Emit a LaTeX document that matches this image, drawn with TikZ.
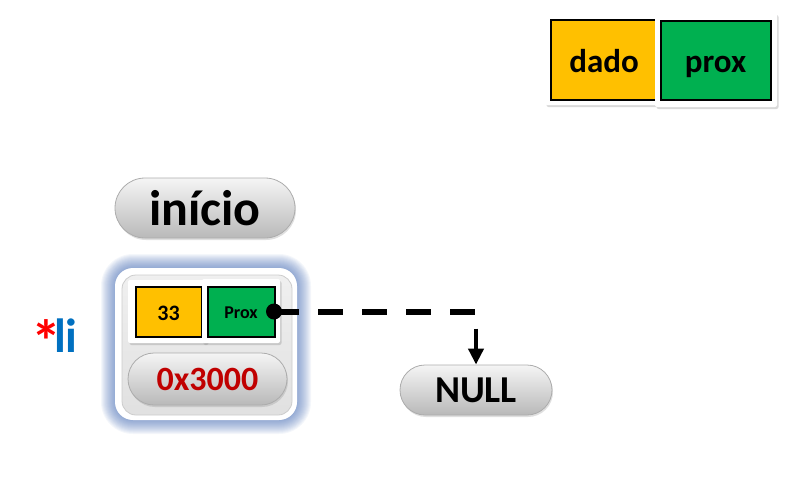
\documentclass[tikz,border=0pt]{standalone}
\usepackage{fontspec}
\setmainfont{Carlito}
\usepackage{tikz}
\usetikzlibrary{arrows.meta,shadows,shapes.misc}

\definecolor{amarelo}{HTML}{FFC000}
\definecolor{verde}{HTML}{00B050}
\definecolor{vermelho}{HTML}{C00000}
\definecolor{azul}{HTML}{0070C0}
\definecolor{brilho}{HTML}{4A6FB5}

\newcommand{\tam}[1]{\fontsize{#1}{#1}\selectfont\bfseries}

\tikzset{
  fundo/.style={fill=white, rounded corners=2pt, inner sep=0pt,
    drop shadow={opacity=0.3, shadow xshift=1.5pt, shadow yshift=-2pt}},
  campo/.style={draw=black, line width=2pt, inner sep=0pt,
    text height=#1, text depth=0pt},
  pilula/.style={rounded rectangle, draw=gray!65, line width=0.8pt,
    top color=gray!8, bottom color=gray!55, inner sep=0pt,
    drop shadow={opacity=0.25, shadow xshift=1pt, shadow yshift=-2pt}},
  tracejada/.style={line width=6pt, dash pattern=on 25pt off 19pt},
}

\begin{document}
\begin{tikzpicture}[x=1pt,y=-1pt]
    \useasboundingbox (0,0) rectangle (797,477);

    % legenda: dado | prox
    \node[fundo, minimum width=115pt, minimum height=92pt] (dadofundo) at (602.5,59) {};
    \node[campo=25pt, fill=amarelo, minimum width=107pt, minimum height=80pt, font=\tam{33}] (dado) at (604,59.5) {dado};
    \node[fundo, minimum width=122pt, minimum height=94pt] (proxfundo) at (716,60) {};
    \node[campo=25pt, fill=verde, minimum width=110pt, minimum height=79pt, font=\tam{33}] (prox) at (715.5,60) {prox};

    % ponteiro inicio
    \node[pilula, minimum width=180pt, minimum height=60pt, font=\tam{50}] (inicio) at (205,208) {início};

    % brilho azul em volta do no
    \foreach \i in {1,...,14}
        \fill[brilho, opacity=0.06, rounded corners=18pt+\i pt]
            (115-\i,268-\i) rectangle (297+\i,420+\i);

    % caixa do no
    \node[fill=white, rounded corners=18pt, minimum width=182pt, minimum height=152pt] (caixa) at (206,344) {};
    \node[draw=gray!40, line width=0.8pt, top color=gray!12, bottom color=gray!24, rounded corners=14pt,
          minimum width=170pt, minimum height=140pt] (painel) at (207,345) {};

    % campos do no
    \node[fundo, minimum width=79pt, minimum height=63pt] (valfundo) at (167.5,311.5) {};
    \node[campo=17pt, fill=amarelo, minimum width=66pt, minimum height=50pt, font=\tam{22}] (val) at (168.5,311.5) {33};
    \node[fundo, minimum width=78pt, minimum height=64pt] (nxtfundo) at (241,311) {};
    \node[campo=13pt, fill=verde, minimum width=67pt, minimum height=50pt, font=\tam{18}] (nxt) at (241,311.5) {Prox};
    \node[pilula, minimum width=159pt, minimum height=52pt, font=\tam{34}, text=vermelho] (ender) at (207.5,379) {0x3000};

    % NULL
    \node[pilula, minimum width=152pt, minimum height=50pt, font=\tam{38}] (null) at (476,390) {NULL};

    % ligacao prox -> NULL
    \coordinate (ponta) at (274,311.5);
    \coordinate (canto) at (476,311.5);
    \draw[tracejada] (ponta) -- (canto);
    \draw[line width=4pt, shorten <=17pt, -{Triangle[width=15pt,length=16pt]}] (canto) -- (null.north);
    \fill (ponta) circle (8);

    % rotulo
    \node[anchor=base west, inner sep=0pt, font=\tam{48}] (li) at (31,352)
        {\textcolor{red}{\raisebox{-10pt}{\fontsize{60}{60}\selectfont*}}\kern-7pt\textcolor{azul}{li}};
\end{tikzpicture}
\end{document}
